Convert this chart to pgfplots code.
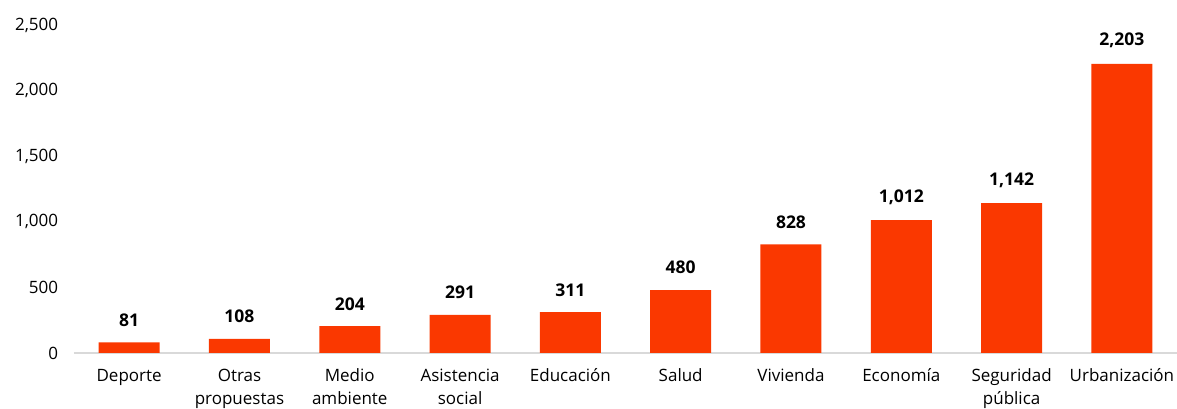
\documentclass[border=0pt]{standalone}
\usepackage{pgfplots}
\pgfplotsset{compat=1.18}
\usepackage{fontspec}
\setmainfont{Open Sans}
\definecolor{barc}{RGB}{250,56,0}
\definecolor{axc}{RGB}{217,217,217}
\begin{document}
\fontsize{17}{23}\selectfont
\begin{tikzpicture}
\useasboundingbox (-74pt,-56pt) rectangle (1103pt,353pt);
\begin{axis}[
  scale only axis, width=1103pt, height=328pt,
  xmin=-0.5, xmax=9.5, ymin=0, ymax=2500,
  ytick={0,500,1000,1500,2000,2500},
  xtick={0,...,9},
  xticklabels={Deporte,{Otras\\propuestas},{Medio\\ambiente},{Asistencia\\social},Educación,Salud,Vivienda,Economía,{Seguridad\\pública},Urbanización},
  axis x line=bottom, axis y line=left,
  y axis line style={draw=none},
  x axis line style={draw=axc, line width=1.2pt, -},
  major tick length=0pt,
  /pgf/number format/1000 sep={,},
  /pgf/number format/assume math mode=true,
  yticklabel style={font=\fontsize{17}{23}\selectfont, xshift=-10pt},
  xticklabel style={font=\fontsize{17}{23}\selectfont, align=center, yshift=-10pt},
  ybar, bar width=61pt,
  nodes near coords,
  every node near coord/.append style={font=\fontsize{17.5}{23}\selectfont\bfseries, yshift=10pt},
  clip=false,
]
\addplot[fill=barc, draw=none] coordinates {
(0,81) (1,108) (2,204) (3,291) (4,311) (5,480) (6,828) (7,1012) (8,1142) (9,2203)};
\end{axis}
\end{tikzpicture}
\end{document}
